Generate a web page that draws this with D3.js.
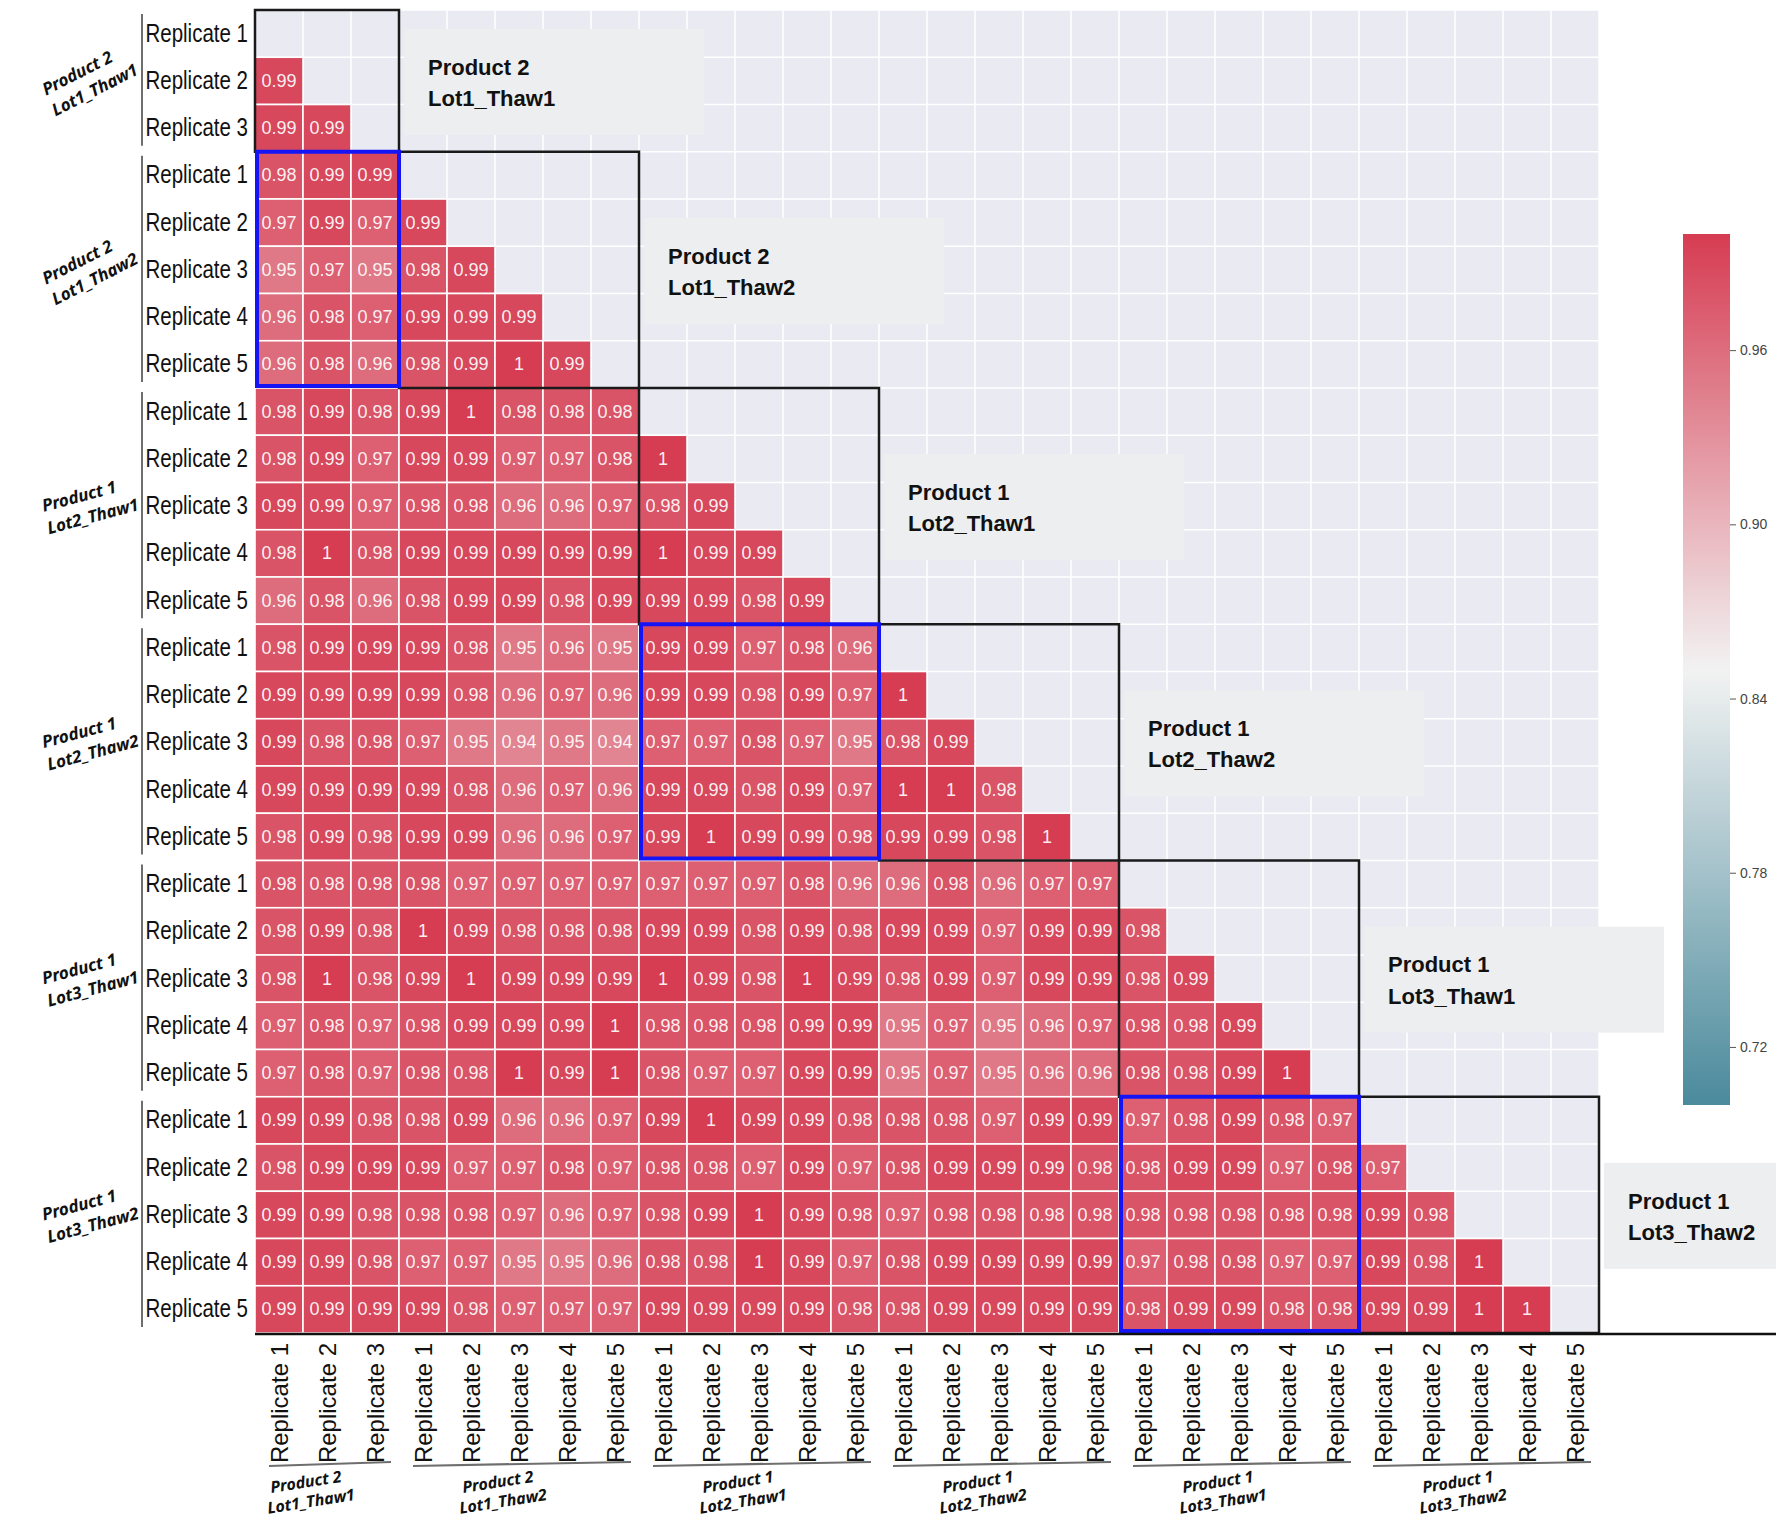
<!DOCTYPE html>
<html>
<head>
<meta charset="utf-8">
<script src="https://cdn.jsdelivr.net/npm/d3@7"></script>
<style>
  html, body { margin: 0; padding: 0; background: #ffffff; }
  svg { display: block; }
</style>
</head>
<body>
<div id="chart"></div>
<script>
// ---- data ----------------------------------------------------------------
const groupProducts = ["Product 2", "Product 2", "Product 1", "Product 1", "Product 1", "Product 1"];
const groupLots = ["Lot1_Thaw1", "Lot1_Thaw2", "Lot2_Thaw1", "Lot2_Thaw2", "Lot3_Thaw1", "Lot3_Thaw2"];
const groupSizes = [3, 5, 5, 5, 5, 5];

// tick labels, one per sample (rows and columns share them)
const sampleLabels = [
  "Replicate 1", "Replicate 2", "Replicate 3",
  "Replicate 1", "Replicate 2", "Replicate 3", "Replicate 4", "Replicate 5",
  "Replicate 1", "Replicate 2", "Replicate 3", "Replicate 4", "Replicate 5",
  "Replicate 1", "Replicate 2", "Replicate 3", "Replicate 4", "Replicate 5",
  "Replicate 1", "Replicate 2", "Replicate 3", "Replicate 4", "Replicate 5",
  "Replicate 1", "Replicate 2", "Replicate 3", "Replicate 4", "Replicate 5"
];

// lower triangle of the correlation matrix, row by row (diagonal omitted)
const corrRows = [
  [],
  [0.99],
  [0.99, 0.99],
  [0.98, 0.99, 0.99],
  [0.97, 0.99, 0.97, 0.99],
  [0.95, 0.97, 0.95, 0.98, 0.99],
  [0.96, 0.98, 0.97, 0.99, 0.99, 0.99],
  [0.96, 0.98, 0.96, 0.98, 0.99, 1, 0.99],
  [0.98, 0.99, 0.98, 0.99, 1, 0.98, 0.98, 0.98],
  [0.98, 0.99, 0.97, 0.99, 0.99, 0.97, 0.97, 0.98, 1],
  [0.99, 0.99, 0.97, 0.98, 0.98, 0.96, 0.96, 0.97, 0.98, 0.99],
  [0.98, 1, 0.98, 0.99, 0.99, 0.99, 0.99, 0.99, 1, 0.99, 0.99],
  [0.96, 0.98, 0.96, 0.98, 0.99, 0.99, 0.98, 0.99, 0.99, 0.99, 0.98, 0.99],
  [0.98, 0.99, 0.99, 0.99, 0.98, 0.95, 0.96, 0.95, 0.99, 0.99, 0.97, 0.98, 0.96],
  [0.99, 0.99, 0.99, 0.99, 0.98, 0.96, 0.97, 0.96, 0.99, 0.99, 0.98, 0.99, 0.97, 1],
  [0.99, 0.98, 0.98, 0.97, 0.95, 0.94, 0.95, 0.94, 0.97, 0.97, 0.98, 0.97, 0.95, 0.98, 0.99],
  [0.99, 0.99, 0.99, 0.99, 0.98, 0.96, 0.97, 0.96, 0.99, 0.99, 0.98, 0.99, 0.97, 1, 1, 0.98],
  [0.98, 0.99, 0.98, 0.99, 0.99, 0.96, 0.96, 0.97, 0.99, 1, 0.99, 0.99, 0.98, 0.99, 0.99, 0.98, 1],
  [0.98, 0.98, 0.98, 0.98, 0.97, 0.97, 0.97, 0.97, 0.97, 0.97, 0.97, 0.98, 0.96, 0.96, 0.98, 0.96, 0.97, 0.97],
  [0.98, 0.99, 0.98, 1, 0.99, 0.98, 0.98, 0.98, 0.99, 0.99, 0.98, 0.99, 0.98, 0.99, 0.99, 0.97, 0.99, 0.99, 0.98],
  [0.98, 1, 0.98, 0.99, 1, 0.99, 0.99, 0.99, 1, 0.99, 0.98, 1, 0.99, 0.98, 0.99, 0.97, 0.99, 0.99, 0.98, 0.99],
  [0.97, 0.98, 0.97, 0.98, 0.99, 0.99, 0.99, 1, 0.98, 0.98, 0.98, 0.99, 0.99, 0.95, 0.97, 0.95, 0.96, 0.97, 0.98, 0.98, 0.99],
  [0.97, 0.98, 0.97, 0.98, 0.98, 1, 0.99, 1, 0.98, 0.97, 0.97, 0.99, 0.99, 0.95, 0.97, 0.95, 0.96, 0.96, 0.98, 0.98, 0.99, 1],
  [0.99, 0.99, 0.98, 0.98, 0.99, 0.96, 0.96, 0.97, 0.99, 1, 0.99, 0.99, 0.98, 0.98, 0.98, 0.97, 0.99, 0.99, 0.97, 0.98, 0.99, 0.98, 0.97],
  [0.98, 0.99, 0.99, 0.99, 0.97, 0.97, 0.98, 0.97, 0.98, 0.98, 0.97, 0.99, 0.97, 0.98, 0.99, 0.99, 0.99, 0.98, 0.98, 0.99, 0.99, 0.97, 0.98, 0.97],
  [0.99, 0.99, 0.98, 0.98, 0.98, 0.97, 0.96, 0.97, 0.98, 0.99, 1, 0.99, 0.98, 0.97, 0.98, 0.98, 0.98, 0.98, 0.98, 0.98, 0.98, 0.98, 0.98, 0.99, 0.98],
  [0.99, 0.99, 0.98, 0.97, 0.97, 0.95, 0.95, 0.96, 0.98, 0.98, 1, 0.99, 0.97, 0.98, 0.99, 0.99, 0.99, 0.99, 0.97, 0.98, 0.98, 0.97, 0.97, 0.99, 0.98, 1],
  [0.99, 0.99, 0.99, 0.99, 0.98, 0.97, 0.97, 0.97, 0.99, 0.99, 0.99, 0.99, 0.98, 0.98, 0.99, 0.99, 0.99, 0.99, 0.98, 0.99, 0.99, 0.98, 0.98, 0.99, 0.99, 1, 1]
];

// blocks outlined in blue: [row group, column group]
const highlightBlocks = [[1, 0], [3, 2], [5, 4]];

const colorbarTicks = [0.96, 0.90, 0.84, 0.78, 0.72];
const colorDomain = [0.70, 0.85, 1.00];
const colorRange = ["#4a8a9c", "#f2f2f2", "#d63c52"];

// ---- layout --------------------------------------------------------------
const W = 1779, H = 1521;
const plot = { left: 255, right: 1599, top: 10, bottom: 1333 };
const n = sampleLabels.length;
const FONT = '"Liberation Sans", Arial, Helvetica, sans-serif';
const GROUP_FONT = '"Noto Sans", "Open Sans", "DejaVu Sans", sans-serif';

const svg = d3.select("#chart").append("svg")
  .attr("width", W).attr("height", H)
  .attr("viewBox", "0 0 " + W + " " + H);

const x = d3.scaleBand().domain(d3.range(n)).range([plot.left, plot.right]).padding(0);
const y = d3.scaleBand().domain(d3.range(n)).range([plot.top, plot.bottom]).padding(0);
const color = d3.scaleLinear().domain(colorDomain).range(colorRange).clamp(true);
const fmtValue = v => String(+v.toFixed(2));

// group start/end indices
const groups = [];
let acc = 0;
groupSizes.forEach(function (s, g) {
  groups.push({ g: g, start: acc, end: acc + s, product: groupProducts[g], lot: groupLots[g] });
  acc += s;
});
const xEdge = i => plot.left + i * x.step();
const yEdge = i => plot.top + i * y.step();

// ---- background and grid -------------------------------------------------
svg.append("rect")
  .attr("x", plot.left).attr("y", plot.top)
  .attr("width", plot.right - plot.left).attr("height", plot.bottom - plot.top)
  .attr("fill", "#eaeaf2");

const grid = svg.append("g").attr("stroke", "#ffffff").attr("stroke-width", 1.5);
d3.range(n + 1).forEach(function (i) {
  grid.append("line").attr("x1", xEdge(i)).attr("x2", xEdge(i))
    .attr("y1", plot.top).attr("y2", plot.bottom);
  grid.append("line").attr("y1", yEdge(i)).attr("y2", yEdge(i))
    .attr("x1", plot.left).attr("x2", plot.right);
});

// ---- annotation panels beside each diagonal block --------------------------
const notes = svg.append("g");
groups.forEach(function (gr) {
  const bx = xEdge(gr.end) + 5;
  const cy = (yEdge(gr.start) + yEdge(gr.end)) / 2;
  const bw = Math.min(300, W - 3 - bx);
  notes.append("rect")
    .attr("x", bx).attr("y", cy - 52)
    .attr("width", bw).attr("height", 106)
    .attr("fill", "#eceef0");
  const t = notes.append("text")
    .attr("x", bx + 24).attr("y", cy)
    .attr("font-family", FONT).attr("font-weight", "bold")
    .attr("font-size", 22).attr("fill", "#111");
  t.append("tspan").attr("x", bx + 24).attr("dy", "-0.28em").text(gr.product);
  t.append("tspan").attr("x", bx + 24).attr("dy", "1.42em").text(gr.lot);
});

// ---- heatmap cells ---------------------------------------------------------
const cells = [];
corrRows.forEach(function (row, r) {
  row.forEach(function (v, c) { cells.push({ r: r, c: c, v: v }); });
});

const cellG = svg.append("g");
cellG.selectAll("rect").data(cells).join("rect")
  .attr("x", function (d) { return x(d.c); })
  .attr("y", function (d) { return y(d.r); })
  .attr("width", x.bandwidth()).attr("height", y.bandwidth())
  .attr("fill", function (d) { return color(d.v); })
  .attr("stroke", "#ffffff").attr("stroke-width", 1.6);

const labelG = svg.append("g");
labelG.selectAll("text").data(cells).join("text")
  .attr("x", function (d) { return x(d.c) + x.bandwidth() / 2; })
  .attr("y", function (d) { return y(d.r) + y.bandwidth() / 2; })
  .attr("text-anchor", "middle").attr("dominant-baseline", "central")
  .attr("font-family", FONT).attr("font-size", 18)
  .attr("fill", "#ffffff").attr("fill-opacity", 0.93)
  .text(function (d) { return fmtValue(d.v); });

// ---- block outlines ------------------------------------------------------
const outlineG = svg.append("g");
groups.forEach(function (gr) {
  outlineG.append("rect")
    .attr("x", xEdge(gr.start)).attr("y", yEdge(gr.start))
    .attr("width", xEdge(gr.end) - xEdge(gr.start))
    .attr("height", yEdge(gr.end) - yEdge(gr.start))
    .attr("fill", "none").attr("stroke", "#1a1a1a").attr("stroke-width", 2.5);
});
highlightBlocks.forEach(function (hb) {
  const rg = groups[hb[0]], cg = groups[hb[1]];
  outlineG.append("rect")
    .attr("x", xEdge(cg.start) + 2).attr("y", yEdge(rg.start))
    .attr("width", xEdge(cg.end) - xEdge(cg.start) - 2)
    .attr("height", yEdge(rg.end) - yEdge(rg.start) - 2)
    .attr("fill", "none").attr("stroke", "#1414f5").attr("stroke-width", 4);
});

// baseline under the matrix
svg.append("line")
  .attr("x1", plot.left).attr("x2", W - 3)
  .attr("y1", plot.bottom + 1).attr("y2", plot.bottom + 1)
  .attr("stroke", "#111").attr("stroke-width", 2.5);

// ---- axes ------------------------------------------------------------------
const yAxis = svg.append("g")
  .attr("transform", "translate(" + plot.left + ",0)")
  .call(d3.axisLeft(y).tickSize(0).tickPadding(0).tickFormat(function (i) { return sampleLabels[i]; }));
yAxis.select(".domain").remove();
// condensed row labels: horizontally squeezed glyphs
yAxis.selectAll("text")
  .attr("x", -7 / 0.82)
  .attr("transform", "scale(0.82,1)")
  .attr("font-family", FONT)
  .attr("font-size", 25).attr("fill", "#111");

const xAxis = svg.append("g")
  .attr("transform", "translate(0," + plot.bottom + ")")
  .call(d3.axisBottom(x).tickSize(0).tickFormat(function (i) { return sampleLabels[i]; }));
xAxis.select(".domain").remove();
xAxis.selectAll("text")
  .attr("transform", "rotate(-90)")
  .attr("x", -10).attr("y", 0).attr("dy", "0.36em")
  .attr("text-anchor", "end")
  .attr("font-family", FONT).attr("font-size", 24).attr("fill", "#111");

// group brackets and labels on the left
const leftGroups = svg.append("g");
groups.forEach(function (gr) {
  const y0 = yEdge(gr.start) + 4, y1 = yEdge(gr.end) - 6;
  leftGroups.append("line")
    .attr("x1", 142).attr("x2", 142).attr("y1", y0).attr("y2", y1)
    .attr("stroke", "#6e6e6e").attr("stroke-width", 2);
  const cy = (yEdge(gr.start) + yEdge(gr.end)) / 2;
  const angle = gr.g < 2 ? -27 : -15;
  const t = leftGroups.append("text")
    .attr("transform", "translate(88," + cy + ") rotate(" + angle + ")")
    .attr("text-anchor", "middle")
    .attr("font-family", GROUP_FONT).attr("font-weight", "bold")
    .attr("font-style", "italic").attr("font-size", 17).attr("fill", "#111");
  t.append("tspan").attr("x", -6).attr("dy", "-0.35em").text(gr.product);
  t.append("tspan").attr("x", 2).attr("dy", "1.35em").text(gr.lot);
});

// group brackets and labels along the bottom
const bottomGroups = svg.append("g");
groups.forEach(function (gr) {
  const x0 = xEdge(gr.start) + 14, x1 = xEdge(gr.end) - 8;
  bottomGroups.append("line")
    .attr("x1", x0).attr("x2", x1).attr("y1", 1466).attr("y2", 1462)
    .attr("stroke", "#6e6e6e").attr("stroke-width", 2.2);
  const cx = (xEdge(gr.start) + xEdge(gr.end)) / 2 - 20;
  const t = bottomGroups.append("text")
    .attr("transform", "translate(" + cx + ",1489) rotate(-9)")
    .attr("text-anchor", "middle")
    .attr("font-family", GROUP_FONT).attr("font-weight", "bold")
    .attr("font-style", "italic").attr("font-size", 16).attr("fill", "#111");
  t.append("tspan").attr("x", 0).attr("dy", "-0.1em").text(gr.product);
  t.append("tspan").attr("x", 2).attr("dy", "1.25em").text(gr.lot);
});

// ---- colour bar -----------------------------------------------------------
const cb = { x: 1683, y: 234, w: 47, h: 871 };
const cbScale = d3.scaleLinear().domain([colorDomain[0], colorDomain[2]]).range([cb.y + cb.h, cb.y]);
const defs = svg.append("defs");
const grad = defs.append("linearGradient").attr("id", "cbGrad")
  .attr("x1", 0).attr("y1", 1).attr("x2", 0).attr("y2", 0);
d3.range(21).forEach(function (k) {
  const t = k / 20;
  const v = colorDomain[0] + t * (colorDomain[2] - colorDomain[0]);
  grad.append("stop").attr("offset", t).attr("stop-color", color(v));
});
svg.append("rect")
  .attr("x", cb.x).attr("y", cb.y).attr("width", cb.w).attr("height", cb.h)
  .attr("fill", "url(#cbGrad)");

const cbAxis = svg.append("g")
  .attr("transform", "translate(" + (cb.x + cb.w) + ",0)")
  .call(d3.axisRight(cbScale).tickValues(colorbarTicks).tickSize(6).tickPadding(4)
    .tickFormat(d3.format(".2f")));
cbAxis.select(".domain").remove();
cbAxis.selectAll("line").attr("stroke", "#555");
cbAxis.selectAll("text").attr("font-family", FONT).attr("font-size", 14).attr("fill", "#444");
</script>
</body>
</html>
